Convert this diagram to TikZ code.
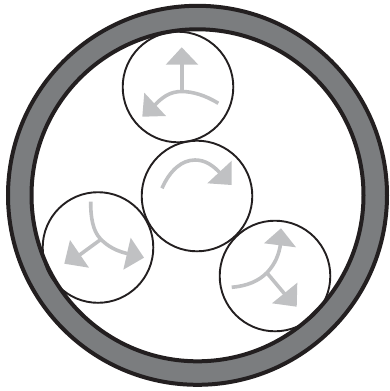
\documentclass[tikz,border=0pt]{standalone}
\definecolor{ringgray}{HTML}{7B7D7F}
\definecolor{arrowgray}{HTML}{C0C1C3}
\definecolor{inkblack}{HTML}{231F20}
\tikzset{
  ringline/.style={draw=inkblack,line width=4pt},
  roller/.style={draw=inkblack,line width=1.9pt},
  stem/.style={draw=arrowgray,line width=3.6pt},
  tip/.style={fill=arrowgray,draw=none},
}
\begin{document}
\begin{tikzpicture}[x=1pt,y=-1pt]
\useasboundingbox (0,0) rectangle (389,391);
% housing ring
\fill[ringgray,even odd rule] (197.5,195.3) circle[radius=189.5] (197.5,195.3) circle[radius=166];
\draw[ringline] (197.5,195.3) circle[radius=189.5];
\draw[ringline] (197.5,195.3) circle[radius=166];
% rollers
\draw[roller] (178,87) circle[radius=55.3];
\draw[roller] (197,196) circle[radius=55.3];
\draw[roller] (98,247.5) circle[radius=55.3];
\draw[roller] (275,276) circle[radius=55.3];
% top roller arrows
\draw[stem] (181.7,62) -- (181.7,92);
\draw[stem] (218.3,103.3) .. controls (205,95) and (192,91.5) .. (181.7,91.5) .. controls (170,91.5) and (162,97) .. (153,107);
\fill[tip] (181.7,47.3) -- (165.7,64.7) -- (198.3,64.7) -- cycle;
\fill[tip] (144.3,92.7) -- (142.3,116.7) -- (166,116) -- cycle;
% centre roller arrow
\draw[stem] (162,188.3) .. controls (170,170) and (182,160) .. (195,160) .. controls (205,160) and (213,165) .. (222,175);
\fill[tip] (231.7,160.7) -- (207.3,183.3) -- (231.7,185) -- cycle;
% left roller arrows
\draw[stem] (90.7,201.7) .. controls (90.5,217) and (93,231) .. (100,238.3) .. controls (107,246) and (117,252) .. (132,254.5);
\draw[stem] (101,239.3) -- (75,258.3);
\fill[tip] (130.7,237.7) -- (144,257.7) -- (123.3,269.7) -- cycle;
\fill[tip] (70,240) -- (64.3,263.7) -- (89,267.7) -- cycle;
% right roller arrows
\draw[stem] (231.7,287.3) .. controls (247,286) and (259,281) .. (267.3,272.3) .. controls (275,264) and (279,255) .. (280.7,243);
\draw[stem] (267.3,273.3) -- (288.3,298.3);
\fill[tip] (281,228.3) -- (264,243.3) -- (296,247.3) -- cycle;
\fill[tip] (297.3,282.7) -- (272,303.3) -- (296.7,306.7) -- cycle;
\end{tikzpicture}
\end{document}
